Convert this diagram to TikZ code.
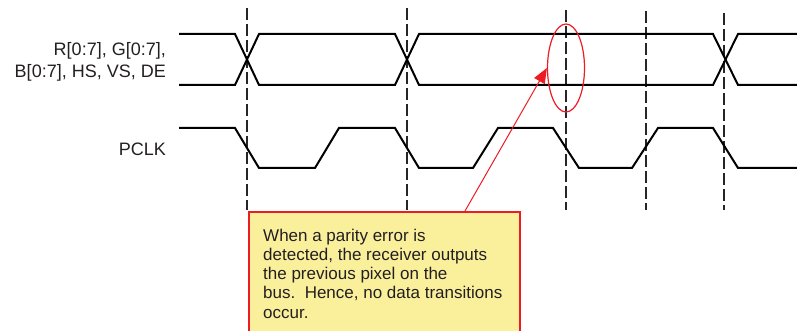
\documentclass[tikz,border=0pt]{standalone}
\usepackage{fontspec}
\setmainfont{Liberation Sans}
\usetikzlibrary{shapes.geometric,arrows.meta,calc}
\definecolor{txt}{HTML}{231F20}
\definecolor{redc}{HTML}{ED1C24}
\definecolor{yel}{HTML}{FAF09C}
\tikzset{
  sig/.style={line width=2pt, black, line join=miter},
  guide/.style={line width=1.1pt, black!85, dash pattern=on 12pt off 4pt},
  lbl/.style={font=\fontsize{18}{21.7}\selectfont, text=txt, inner sep=0pt, align=right},
  note/.style={draw=redc, line width=1.6pt, fill=yel, minimum width=271pt, minimum height=140pt, anchor=north west, inner sep=0pt},
  notetext/.style={font=\fontsize{17}{19.3}\selectfont, text=txt, inner sep=0pt, align=left, anchor=north west}
}
\begin{document}
\begin{tikzpicture}[x=1pt,y=-1pt]
\useasboundingbox (0,0) rectangle (797,331);
% guide lines
\foreach \gx/\gy in {247/8,407/8,566/10,646/11,724/13}{
  \draw[guide] (\gx,\gy) -- (\gx,210);
}
% data bus
\draw[sig] (179,34) -- (235,34) -- (259,85) -- (395,85) -- (419,34) -- (713,34) -- (738,85) -- (797,85);
\draw[sig] (179,85) -- (235,85) -- (259,34) -- (395,34) -- (419,85) -- (713,85) -- (738,34) -- (797,34);
% clock
\draw[sig] (179,128) -- (235,128) -- (259,168) -- (315,168) -- (339,128) -- (395,128) -- (419,168) -- (473,168) -- (498,128) -- (553,128) -- (579,168) -- (632,168) -- (658,128) -- (713,128) -- (738,168) -- (797,168);
% labels
\node[lbl, anchor=north east] (bus) at (166,42.5) {R[0:7], G[0:7],\\B[0:7], HS, VS, DE};
\node[lbl, anchor=base east] (pclk) at (166,155.3) {PCLK};
% ellipse
\node[draw=redc, line width=1.2pt, ellipse, minimum width=37pt, minimum height=88pt, inner sep=0pt] (ell) at (566,68) {};
% note box
\node[note] (box) at (248,211) {};
\node[notetext] (boxtxt) at (263,228.5) {When a parity error is\\detected, the receiver outputs\\the previous pixel on the\\bus.\ \ Hence, no data transitions\\occur.};
\draw[redc, line width=1pt, -{Triangle[length=15pt,width=12pt]}] ($(box.north west)+(217,0)$) -- (ell.west);
\end{tikzpicture}
\end{document}
